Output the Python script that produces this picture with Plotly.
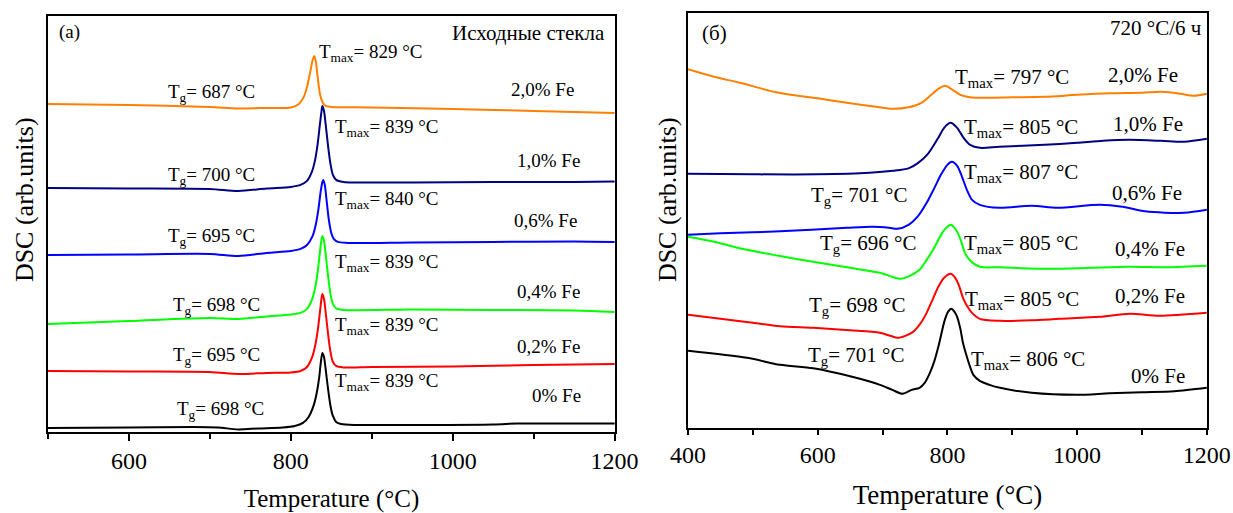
import plotly.graph_objects as go

# ---------------- Panel (a): as-cast glasses ----------------
t_a_20 = [500, 600, 700, 735, 770, 800, 810, 816, 820, 824, 827, 829, 831, 833, 836, 839, 843, 850, 900, 1000, 1100, 1200]
s_a_20 = [32.8, 32.7, 32.5, 32.35, 32.4, 32.45, 32.8, 33.5, 34.5, 36.0, 37.2, 37.6, 37.0, 35.6, 33.8, 33.0, 32.6, 32.5, 32.45, 32.3, 32.1, 31.9]

t_a_10 = [500, 600, 700, 735, 770, 800, 812, 820, 826, 830, 833, 836, 838, 839, 841, 843, 846, 849, 852, 856, 865, 950, 1050, 1150, 1200]
s_a_10 = [24.4, 24.35, 24.3, 24.1, 24.35, 24.5, 24.7, 25.1, 26.0, 27.2, 28.7, 30.8, 32.1, 32.6, 32.1, 30.8, 28.6, 26.8, 25.7, 25.2, 25.0, 24.95, 25.0, 25.0, 25.05]

t_a_06 = [500, 600, 700, 735, 770, 800, 812, 820, 827, 831, 834, 837, 839, 840, 842, 844, 847, 850, 853, 858, 870, 950, 1050, 1150, 1200]
s_a_06 = [17.7, 17.75, 17.8, 17.6, 17.9, 18.1, 18.3, 18.7, 19.6, 20.8, 22.2, 24.1, 25.0, 25.2, 24.7, 23.3, 21.2, 19.9, 19.3, 19.0, 18.9, 18.95, 19.0, 19.05, 19.0]

t_a_04 = [500, 600, 700, 735, 770, 800, 812, 820, 826, 830, 833, 836, 838, 839, 841, 843, 846, 849, 852, 856, 865, 950, 1050, 1150, 1200]
s_a_04 = [10.8, 11.1, 11.4, 11.3, 11.55, 11.75, 11.9, 12.3, 13.2, 14.4, 15.9, 18.0, 19.3, 19.6, 19.1, 17.8, 15.6, 13.8, 12.8, 12.35, 12.2, 12.25, 12.2, 12.15, 12.0]

t_a_02 = [500, 600, 700, 735, 770, 800, 812, 820, 826, 830, 833, 836, 838, 839, 841, 843, 846, 849, 852, 856, 865, 900, 1000, 1100, 1200]
s_a_02 = [6.1, 6.05, 6.0, 5.8, 5.9, 5.95, 6.1, 6.5, 7.4, 8.6, 10.0, 12.0, 13.4, 13.8, 13.3, 12.0, 9.8, 8.0, 7.0, 6.6, 6.45, 6.5, 6.55, 6.7, 6.8]

t_a_00 = [500, 600, 680, 710, 735, 760, 790, 805, 815, 822, 828, 832, 835, 837, 839, 841, 843, 846, 849, 852, 856, 862, 880, 950, 1050, 1080, 1120, 1160, 1200]
s_a_00 = [0.4, 0.45, 0.5, 0.45, 0.25, 0.35, 0.45, 0.6, 0.9, 1.5, 2.6, 3.9, 5.4, 6.9, 7.9, 7.5, 6.3, 4.3, 2.6, 1.6, 1.0, 0.8, 0.7, 0.7, 0.75, 0.85, 0.85, 0.85, 0.85]

# ---------------- Panel (б): 720 °C / 6 h ----------------
t_b_20 = [400, 440, 480, 540, 600, 645, 690, 716, 740, 760, 775, 785, 797, 808, 820, 835, 850, 900, 950, 1000, 1050, 1100, 1130, 1160, 1180, 1200]
s_b_20 = [35.85, 35.1, 34.5, 33.5, 32.95, 32.5, 32.1, 31.9, 32.05, 32.5, 33.3, 33.85, 34.2, 33.8, 33.3, 33.05, 33.0, 33.05, 33.1, 33.3, 33.45, 33.5, 33.6, 33.4, 33.2, 33.4]

t_b_10 = [400, 500, 600, 680, 716, 740, 755, 770, 785, 795, 805, 815, 825, 835, 850, 880, 950, 1000, 1040, 1080, 1130, 1165, 1200]
s_b_10 = [25.4, 25.35, 25.35, 25.5, 25.7, 25.95, 26.5, 27.4, 28.9, 30.0, 30.5, 30.0, 29.0, 28.3, 28.0, 28.1, 28.3, 28.5, 28.7, 28.8, 28.7, 28.6, 28.9]

t_b_06 = [400, 450, 542, 645, 685, 710, 723, 740, 755, 768, 780, 790, 800, 807, 815, 822, 830, 838, 850, 880, 930, 970, 1035, 1070, 1105, 1165, 1200]
s_b_06 = [19.3, 19.45, 19.65, 20.0, 20.1, 20.0, 19.9, 20.3, 21.2, 22.5, 24.0, 25.3, 26.3, 26.6, 26.2, 25.2, 23.8, 22.8, 22.3, 22.0, 22.2, 22.0, 22.3, 22.1, 21.65, 21.5, 21.8]

t_b_04 = [400, 440, 491, 540, 593, 650, 696, 715, 727, 742, 757, 768, 778, 786, 793, 800, 805, 811, 816, 822, 827, 833, 839, 850, 880, 960, 1020, 1080, 1140, 1200]
s_b_04 = [19.1, 18.6, 17.8, 17.2, 16.6, 16.0, 15.5, 15.1, 14.9, 15.2, 15.8, 16.8, 17.8, 18.8, 19.6, 20.1, 20.3, 20.0, 19.5, 18.5, 17.5, 16.9, 16.5, 16.1, 16.05, 15.9, 16.0, 16.1, 16.05, 16.2]

t_b_02 = [400, 450, 500, 542, 593, 650, 696, 712, 723, 735, 747, 758, 768, 777, 786, 795, 805, 812, 818, 824, 831, 838, 850, 880, 930, 973, 1035, 1081, 1127, 1200]
s_b_02 = [11.3, 10.9, 10.5, 10.15, 10.0, 9.75, 9.5, 9.2, 9.0, 9.2, 9.6, 10.4, 11.5, 12.8, 14.1, 15.0, 15.4, 15.0, 14.2, 13.0, 12.1, 11.5, 10.9, 10.7, 10.75, 10.9, 11.1, 11.4, 11.2, 11.5]

t_b_00 = [400, 491, 542, 593, 650, 696, 715, 731, 745, 757, 765, 773, 780, 786, 796, 801, 806, 811, 815, 820, 824, 830, 835, 840, 850, 865, 881, 930, 1000, 1050, 1100, 1150, 1200]
s_b_00 = [7.7, 7.0, 6.3, 5.95, 5.15, 4.3, 3.8, 3.4, 3.8, 4.0, 4.5, 5.5, 6.7, 8.1, 10.8, 11.6, 11.9, 11.6, 11.1, 9.9, 8.5, 7.1, 6.1, 5.3, 4.7, 4.3, 4.0, 3.5, 3.3, 3.45, 3.55, 3.65, 4.0]

colors = {"2.0": "#FF8000", "1.0": "#000080", "0.6": "#0000FF",
          "0.4": "#00FF00", "0.2": "#FF0000", "0.0": "#000000"}

panel_a = [("2.0", t_a_20, s_a_20), ("1.0", t_a_10, s_a_10), ("0.6", t_a_06, s_a_06),
           ("0.4", t_a_04, s_a_04), ("0.2", t_a_02, s_a_02), ("0.0", t_a_00, s_a_00)]
panel_b = [("2.0", t_b_20, s_b_20), ("1.0", t_b_10, s_b_10), ("0.6", t_b_06, s_b_06),
           ("0.4", t_b_04, s_b_04), ("0.2", t_b_02, s_b_02), ("0.0", t_b_00, s_b_00)]

SERIF = "Liberation Serif"

fig = go.Figure()
for key, t, s in panel_a:
    fig.add_trace(go.Scatter(x=t, y=s, mode="lines", xaxis="x", yaxis="y",
                             line=dict(color=colors[key], width=2, shape="spline", smoothing=0.8),
                             showlegend=False, hoverinfo="skip"))
for key, t, s in panel_b:
    fig.add_trace(go.Scatter(x=t, y=s, mode="lines", xaxis="x2", yaxis="y2",
                             line=dict(color=colors[key], width=2, shape="spline", smoothing=0.8),
                             showlegend=False, hoverinfo="skip"))

# Text labels: (text, x, y, xanchor)
labels_a = [
    ("(a)", 511, 40.0, "left"),
    ("Исходные стекла", 1191, 39.9, "right"),
    ("T<sub>max</sub>= 829 °C", 832, 37.9, "left"),
    ("T<sub>g</sub>= 687 °C", 646, 33.9, "left"),
    ("2,0% Fe", 1069, 34.2, "left"),
    ("T<sub>max</sub>= 839 °C", 852, 30.4, "left"),
    ("T<sub>g</sub>= 700 °C", 646, 25.6, "left"),
    ("1,0% Fe", 1077, 27.1, "left"),
    ("T<sub>max</sub>= 840 °C", 852, 23.2, "left"),
    ("T<sub>g</sub>= 695 °C", 646, 19.5, "left"),
    ("0,6% Fe", 1073, 21.1, "left"),
    ("T<sub>max</sub>= 839 °C", 852, 16.9, "left"),
    ("T<sub>g</sub>= 698 °C", 652, 12.6, "left"),
    ("0,4% Fe", 1077, 14.0, "left"),
    ("T<sub>max</sub>= 839 °C", 852, 10.6, "left"),
    ("T<sub>g</sub>= 695 °C", 652, 7.6, "left"),
    ("0,2% Fe", 1077, 8.5, "left"),
    ("T<sub>max</sub>= 839 °C", 852, 5.0, "left"),
    ("T<sub>g</sub>= 698 °C", 657, 2.2, "left"),
    ("0% Fe", 1096, 3.6, "left"),
]
labels_b = [
    ("(б)", 418, 39.5, "left"),
    ("720 °C/6 ч", 1195, 40.0, "right"),
    ("T<sub>max</sub>= 797 °C", 808, 35.0, "left"),
    ("2,0% Fe", 1044, 35.3, "left"),
    ("T<sub>max</sub>= 805 °C", 822, 30.0, "left"),
    ("1,0% Fe", 1053, 30.4, "left"),
    ("T<sub>max</sub>= 807 °C", 822, 25.5, "left"),
    ("T<sub>g</sub>= 701 °C", 586, 23.2, "left"),
    ("0,6% Fe", 1050, 23.5, "left"),
    ("T<sub>g</sub>= 696 °C", 600, 18.4, "left"),
    ("T<sub>max</sub>= 805 °C", 822, 18.4, "left"),
    ("0,4% Fe", 1055, 17.9, "left"),
    ("T<sub>g</sub>= 698 °C", 583, 12.2, "left"),
    ("T<sub>max</sub>= 805 °C", 824, 12.8, "left"),
    ("0,2% Fe", 1055, 13.2, "left"),
    ("T<sub>g</sub>= 701 °C", 582, 7.2, "left"),
    ("T<sub>max</sub>= 806 °C", 833, 6.8, "left"),
    ("0% Fe", 1080, 5.2, "left"),
]

annotations = []
for text, x, y, xa in labels_a:
    size = 21 if text == "Исходные стекла" else 19
    annotations.append(dict(text=text, x=x, y=y, xref="x", yref="y", xanchor=xa, yanchor="middle",
                            showarrow=False, font=dict(family=SERIF, size=size, color="black")))
for text, x, y, xa in labels_b:
    annotations.append(dict(text=text, x=x, y=y, xref="x2", yref="y2", xanchor=xa, yanchor="middle",
                            showarrow=False, font=dict(family=SERIF, size=21, color="black")))

# Vertical DSC titles, one beside each panel
for xpos in (0.0195, 0.541):
    annotations.append(dict(text="DSC (arb.units)", x=xpos, y=0.61, xref="paper", yref="paper",
                            xanchor="center", yanchor="middle", textangle=-90, showarrow=False,
                            font=dict(family=SERIF, size=26, color="black")))

axis_common = dict(showline=True, linecolor="black", linewidth=1.5, mirror=True,
                   showgrid=False, zeroline=False, automargin=False)

fig.update_layout(
    width=1233, height=513,
    margin=dict(l=0, r=0, t=0, b=0),
    paper_bgcolor="white", plot_bgcolor="white",
    font=dict(family=SERIF, color="black"),
    annotations=annotations,
    xaxis=dict(domain=[0.0389, 0.4988], range=[500, 1200.5], tick0=400, dtick=200,
               ticks="outside", ticklen=7, tickwidth=1.5, tickcolor="black",
               minor=dict(dtick=100, tick0=400, ticks="outside", ticklen=5, tickwidth=1.5, tickcolor="black"),
               tickfont=dict(family=SERIF, size=24),
               title=dict(text="Temperature (°C)", font=dict(family=SERIF, size=25), standoff=16),
               anchor="y", **axis_common),
    yaxis=dict(domain=[0.158, 0.969], range=[0, 41.6], showticklabels=False, ticks="",
               anchor="x", **axis_common),
    xaxis2=dict(domain=[0.558, 0.979], range=[400, 1200.5], tick0=400, dtick=200,
                ticks="outside", ticklen=5, tickwidth=1.5, tickcolor="black",
                minor=dict(dtick=100, tick0=400, ticks="outside", ticklen=5, tickwidth=1.5, tickcolor="black"),
                tickfont=dict(family=SERIF, size=24),
                title=dict(text="Temperature (°C)", font=dict(family=SERIF, size=27), standoff=18),
                anchor="y2", **axis_common),
    yaxis2=dict(domain=[0.166, 0.975], range=[0, 41.5], showticklabels=False, ticks="",
                anchor="x2", **axis_common),
)

fig.write_html("out.html")
